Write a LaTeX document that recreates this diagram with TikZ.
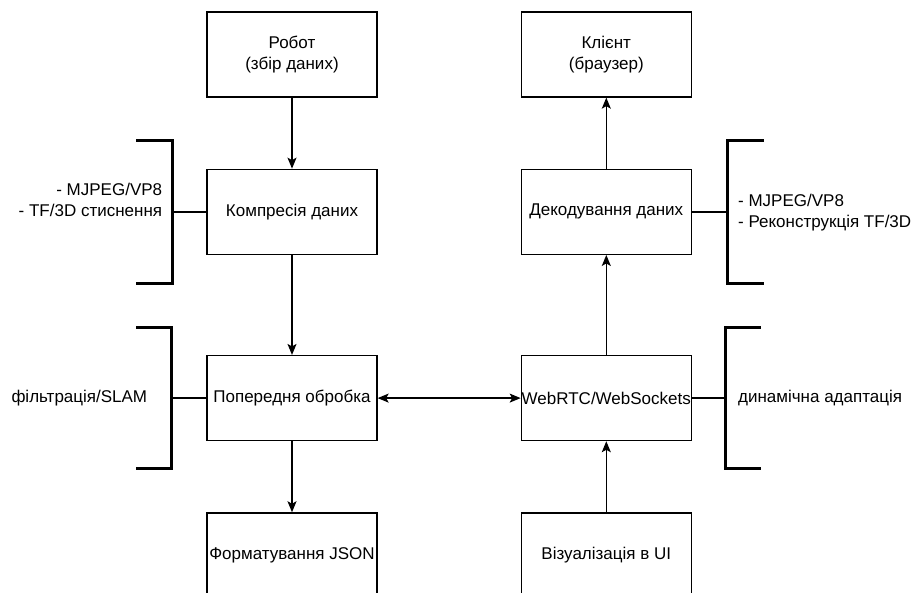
\documentclass[tikz,border=0pt]{standalone}
\usepackage{fontspec}
\setmainfont{Liberation Sans}
\usetikzlibrary{positioning,arrows.meta,calc}
\tikzset{
  >={Stealth[length=11pt,width=9pt,inset=2.5pt]},
  blk/.style={draw=black,line width=1.3pt,minimum width=170pt,minimum height=85pt,
    align=center,inner sep=0pt,font=\fontsize{17}{21}\selectfont},
  flow/.style={->,line width=1.3pt},
  brk/.style={line width=3pt},
  brkline/.style={line width=2.5pt},
  note/.style={font=\fontsize{17}{21}\selectfont,inner sep=0pt},
}
\begin{document}
\begin{tikzpicture}[x=1pt,y=-1pt]
  \useasboundingbox (0,0) rectangle (912,593);
  % left column
  \node[blk] (robot) at (292,54.5) {Робот\\(збір даних)};
  \node[blk,below=71pt of robot] (compr) {Компресія даних};
  \node[blk,below=100pt of compr] (preproc) {Попередня обробка};
  \node[blk,below=71pt of preproc] (fmt) {Форматування JSON};
  % right column
  \node[blk,right=143pt of robot] (client) {Клієнт\\(браузер)};
  \node[blk,below=71pt of client] (decode) {Декодування даних};
  \node[blk,below=100pt of decode] (webrtc) {WebRTC/WebSockets};
  \node[blk,below=71pt of webrtc] (vis) {Візуалізація в UI};

  \draw[flow] (robot) -- (compr);
  \draw[flow] (compr) -- (preproc);
  \draw[flow] (preproc) -- (fmt);
  \draw[flow,<->] (preproc) -- (webrtc);
  \draw[flow] (vis) -- (webrtc);
  \draw[flow] (webrtc) -- (decode);
  \draw[flow] (decode) -- (client);

  % brackets with notes
  \coordinate[left=34pt of compr.west] (bcompr);
  \draw[brkline] (compr.west) -- (bcompr);
  \draw[brk] ($(bcompr)+(-36,-71.5)$) -- ++(36,0) -- ++(0,143) -- ++(-36,0);
  \node[note,anchor=east,align=right] (ncompr) at ($(bcompr)+(-10,-12)$)
    {- MJPEG/VP8\\- TF/3D стиснення};

  \coordinate[left=35pt of preproc.west] (bpre);
  \draw[brkline] (preproc.west) -- (bpre);
  \draw[brk] ($(bpre)+(-35,-70.5)$) -- ++(35,0) -- ++(0,141) -- ++(-35,0);
  \node[note,anchor=east] (npre) at ($(bpre)+(-24,0)$) {фільтрація/SLAM};

  \coordinate[right=36pt of decode.east] (bdec);
  \draw[brkline] (decode.east) -- (bdec);
  \draw[brk] ($(bdec)+(36,-71.5)$) -- ++(-36,0) -- ++(0,143) -- ++(36,0);
  \node[note,anchor=west,align=left] (ndec) at ($(bdec)+(10,1)$)
    {- MJPEG/VP8\\- Реконструкція TF/3D};

  \coordinate[right=34pt of webrtc.east] (bweb);
  \draw[brkline] (webrtc.east) -- (bweb);
  \draw[brk] ($(bweb)+(35,-70.5)$) -- ++(-35,0) -- ++(0,141) -- ++(35,0);
  \node[note,anchor=west] (nweb) at ($(bweb)+(12,0)$) {динамічна адаптація};
\end{tikzpicture}
\end{document}
